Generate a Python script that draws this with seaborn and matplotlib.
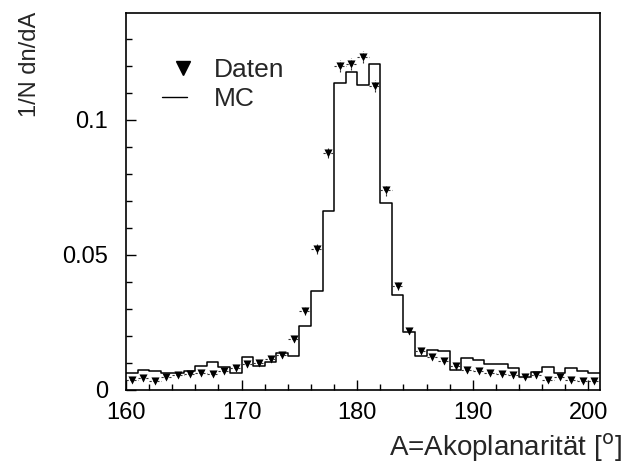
import numpy as np
import pandas as pd
import matplotlib
matplotlib.use("Agg")
import matplotlib.pyplot as plt
import seaborn as sns
from matplotlib.lines import Line2D
from matplotlib.legend_handler import HandlerLine2DCompound

# ---- data ----
bin_edges = list(range(160, 202))  # 1-degree bins from 160 to 201
bin_centers = [e + 0.5 for e in range(160, 201)]

mc_values = [0.0061, 0.0073, 0.0068, 0.0062, 0.0063, 0.0067, 0.0088, 0.0103,
             0.0083, 0.0061, 0.0121, 0.0089, 0.0101, 0.0136, 0.0125, 0.0236,
             0.0366, 0.0663, 0.1137, 0.1178, 0.1129, 0.1205, 0.0691, 0.0352,
             0.0213, 0.0125, 0.0148, 0.0142, 0.0073, 0.0116, 0.0110, 0.0093,
             0.0093, 0.0080, 0.0046, 0.0064, 0.0083, 0.0060, 0.0080, 0.0070,
             0.0062]

data_values = [0.0037, 0.0041, 0.0033, 0.0046, 0.0054, 0.0058, 0.0061, 0.0058,
               0.0070, 0.0080, 0.0094, 0.0100, 0.0114, 0.0128, 0.0188, 0.0292,
               0.0520, 0.0878, 0.1200, 0.1206, 0.1234, 0.1125, 0.0738, 0.0383,
               0.0216, 0.0143, 0.0122, 0.0104, 0.0088, 0.0072, 0.0069, 0.0063,
               0.0057, 0.0052, 0.0046, 0.0052, 0.0036, 0.0046, 0.0036, 0.0030,
               0.0030]

data_yerr = [0.0008, 0.0008, 0.0008, 0.0008, 0.0009, 0.0009, 0.0009, 0.0009,
             0.0010, 0.0010, 0.0011, 0.0011, 0.0012, 0.0012, 0.0013, 0.0015,
             0.0018, 0.0020, 0.0022, 0.0022, 0.0022, 0.0021, 0.0019, 0.0015,
             0.0012, 0.0010, 0.0010, 0.0010, 0.0009, 0.0009, 0.0009, 0.0009,
             0.0008, 0.0008, 0.0008, 0.0008, 0.0008, 0.0008, 0.0008, 0.0007,
             0.0007]

x_ticks = [160, 170, 180, 190, 200]
y_ticks = [0, 0.05, 0.1]
y_tick_labels = ["0", "0.05", "0.1"]

df_mc = pd.DataFrame({"A": bin_centers, "w": mc_values})
df_data = pd.DataFrame({"A": bin_centers, "y": data_values, "yerr": data_yerr})

# ---- style ----
sns.set_theme(style="white")
plt.rcParams["font.family"] = ["Liberation Sans", "DejaVu Sans"]
FS = 17
FS_BIG = 20

fig = plt.figure(figsize=(6.31, 4.73), dpi=100)
ax = fig.add_axes([0.1997, 0.1765, 0.7512, 0.7967])

# MC histogram
sns.histplot(data=df_mc, x="A", weights="w", bins=bin_edges, element="step",
             fill=False, color="black", linewidth=1.1, ax=ax, label="MC")

# data error bars
eb = ax.errorbar(df_data["A"], df_data["y"], xerr=0.5, yerr=df_data["yerr"],
                 fmt="none", ecolor="#333333", elinewidth=0.8, capsize=0)
for lc in eb[2]:
    lc.set_linestyle((0, (2.0, 1.5)))

# data markers
sns.scatterplot(data=df_data, x="A", y="y", marker="v", s=34, color="black",
                edgecolor="black", linewidth=0, ax=ax, zorder=5)

ax.set_xlim(160, 201)
ax.set_ylim(0, 0.1397)
ax.set_xticks(x_ticks)
ax.set_xticklabels([str(t) for t in x_ticks])
ax.set_xticks(np.arange(160, 201, 2), minor=True)
ax.set_yticks(y_ticks)
ax.set_yticklabels(y_tick_labels)
ax.set_yticks(np.arange(0, 0.135, 0.01), minor=True)

ax.tick_params(axis="both", which="both", direction="in", top=False, right=False,
               colors="black", labelsize=FS)
ax.tick_params(axis="both", which="major", length=7, width=1)
ax.tick_params(axis="both", which="minor", length=4, width=1)
ax.tick_params(axis="x", which="both", bottom=True, pad=9)
ax.tick_params(axis="y", which="both", left=True, pad=13)

for sp in ax.spines.values():
    sp.set_color("black")
    sp.set_linewidth(1.2)

ax.set_xlabel("")
ax.set_ylabel("")
fig.text(0.986, 0.036, "A=Akoplanarität [$^{\\mathrm{o}}$]", ha="right",
         va="baseline", fontsize=FS_BIG)
fig.text(0.048, 0.975, "1/N dn/dA", rotation=90, ha="center", va="top", fontsize=FS)


class RightMarkerHandler(HandlerLine2DCompound):
    """Place the legend marker towards the right end of the handle box."""
    def get_xdata(self, legend, xdescent, ydescent, width, height, fontsize):
        xdata = np.array([-xdescent, -xdescent + width], float)
        xdata_marker = np.array([-xdescent + 0.85 * width], float)
        return xdata, xdata_marker


mk = Line2D([], [], marker="v", linestyle="none", color="black", markersize=10)
ln = Line2D([], [], color="black", linewidth=1.0)
ax.legend([mk, ln], ["Daten", "MC"], loc="upper left", bbox_to_anchor=(0.076, 0.88),
          frameon=False, fontsize=19, handlelength=0.95, handletextpad=1.0,
          labelspacing=0.2, borderaxespad=0, borderpad=0,
          handler_map={mk: RightMarkerHandler(numpoints=1)})

fig.savefig("out.png", dpi=100)
